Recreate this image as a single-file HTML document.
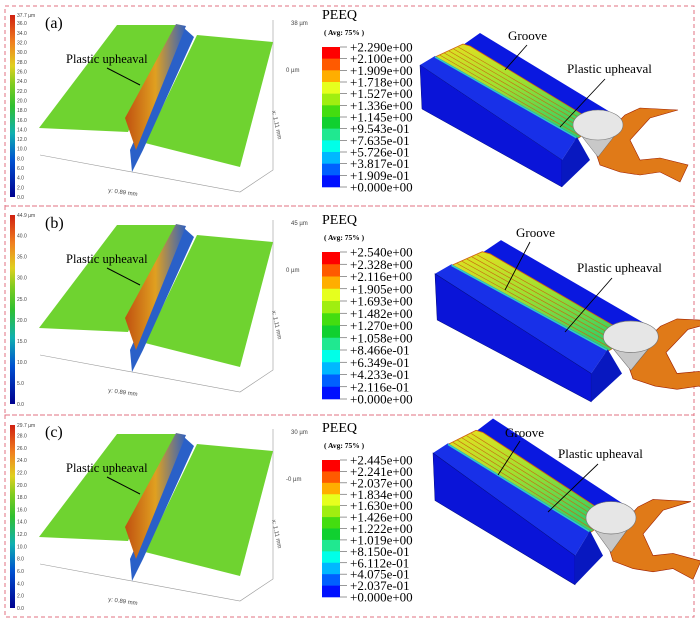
<!DOCTYPE html>
<html><head><meta charset="utf-8"><style>
body{margin:0;background:#fff;width:700px;height:623px;overflow:hidden}
svg{display:block;font-family:"Liberation Serif",serif}
.s{font-family:"Liberation Sans",sans-serif}
</style></head><body>
<svg id="fig" width="700" height="623" viewBox="0 0 700 623" xmlns="http://www.w3.org/2000/svg">
<defs>
<linearGradient id="jet" x1="0" y1="1" x2="0" y2="0">
<stop offset="0" stop-color="#00008f"/><stop offset="0.2" stop-color="#0050d0"/><stop offset="0.35" stop-color="#10b0b0"/><stop offset="0.5" stop-color="#30c030"/><stop offset="0.62" stop-color="#80cc20"/><stop offset="0.72" stop-color="#e0d020"/><stop offset="0.85" stop-color="#f08020"/><stop offset="1" stop-color="#d02010"/>
</linearGradient>
<linearGradient id="ridge" x1="0" y1="0" x2="1" y2="0">
<stop offset="0" stop-color="#c05010"/><stop offset="0.5" stop-color="#e0a020"/><stop offset="1" stop-color="#3060c0"/>
</linearGradient>
<linearGradient id="grv" x1="0" y1="0" x2="0.4" y2="1">
<stop offset="0" stop-color="#e8e020"/><stop offset="0.5" stop-color="#a0e030"/><stop offset="1" stop-color="#40d060"/>
</linearGradient>
</defs>
</svg>
<script>
const panelLetters=['(a)','(b)','(c)'];
const panelTops=[6,206,415];
const panelBottoms=[206,415,617];
const heightMax=['37.7 µm','44.9 µm','29.7 µm'];
const heightTicksA=['36.0','34.0','32.0','30.0','28.0','26.0','24.0','22.0','20.0','18.0','16.0','14.0','12.0','10.0','8.0','6.0','4.0','2.0','0.0'];
const heightTicksB=['40.0','35.0','30.0','25.0','20.0','15.0','10.0','5.0','0.0'];
const heightTicksC=['28.0','26.0','24.0','22.0','20.0','18.0','16.0','14.0','12.0','10.0','8.0','6.0','4.0','2.0','0.0'];
const heightVals=[[36,34,32,30,28,26,24,22,20,18,16,14,12,10,8,6,4,2,0],[40,35,30,25,20,15,10,5,0],[28,26,24,22,20,18,16,14,12,10,8,6,4,2,0]];
const heightMaxVals=[37.7,44.9,29.7];
const zTop=['38 µm','45 µm','30 µm'];
const zZero=['0 µm','0 µm','-0 µm'];
const peeqA=['+2.290e+00','+2.100e+00','+1.909e+00','+1.718e+00','+1.527e+00','+1.336e+00','+1.145e+00','+9.543e-01','+7.635e-01','+5.726e-01','+3.817e-01','+1.909e-01','+0.000e+00'];
const peeqB=['+2.540e+00','+2.328e+00','+2.116e+00','+1.905e+00','+1.693e+00','+1.482e+00','+1.270e+00','+1.058e+00','+8.466e-01','+6.349e-01','+4.233e-01','+2.116e-01','+0.000e+00'];
const peeqC=['+2.445e+00','+2.241e+00','+2.037e+00','+1.834e+00','+1.630e+00','+1.426e+00','+1.222e+00','+1.019e+00','+8.150e-01','+6.112e-01','+4.075e-01','+2.037e-01','+0.000e+00'];
const bandColors=['#ff0000','#ff5a00','#ffae00','#e6ff1e','#a0ee10','#44dd10','#10d030','#20e890','#00ffe8','#00b8ff','#0060ff','#0010ff'];
const heightTickLabels=[heightTicksA,heightTicksB,heightTicksC];
const peeqLabels=[peeqA,peeqB,peeqC];
const barTops=[15,215,425], barBots=[197,404,608];
const peeqTop=[47,252,460], peeqBot=[187,399,597];
const modelTx=[[0,0,1,1],[435-420*1.1,277-65*1.1,1.1,1.05],[433-420*1.0,453-65*1.08,1.0,1.08]];
const groovePos=[[508,40,527,45,505,70],[516,237,530,242,505,290],[505,437,520,441,498,475]];
const upPos=[[567,73,605,79,560,127],[577,272,612,278,565,332],[558,458,598,464,548,512]];
const NS='http://www.w3.org/2000/svg';
const svg=document.getElementById('fig');
function mk(tag,attrs,parent,text){const e=document.createElementNS(NS,tag);for(const k in attrs)e.setAttribute(k,attrs[k]);if(text!==undefined)e.textContent=text;(parent||svg).appendChild(e);return e;}
function pts(a){return a.map(p=>p.join(',')).join(' ');}
for(let i=0;i<3;i++){
 const T=panelTops[i],B=panelBottoms[i];
 const g=mk('g',{});
 
 
 const fr=mk('rect',{x:5,y:T,width:689,height:B-T,fill:'none',stroke:'#e07080','stroke-width':1,'stroke-dasharray':'4,3'},g);
 
 
 const y0=barTops[i],y1=barBots[i];
 const hb=mk('rect',{x:10,y:y0,width:5,height:y1-y0,fill:'url(#jet)'},g);
 
 
 const sc=v=>y1-(v/heightMaxVals[i])*(y1-y0);
 const mt=mk('text',{x:17,y:y0+2,'font-size':5,fill:'#444',class:'s'},g,heightMax[i]);
 
 
 heightVals[i].forEach((v,k)=>{
  const t=mk('text',{x:17,y:sc(v)+2,'font-size':5,fill:'#444',class:'s'},g,heightTickLabels[i][k]);
  
  
 });
 const lt=mk('text',{x:45,y:T+22,'font-size':16,fill:'#000'},g,panelLetters[i]);
 
 
 const o=T-6;
 const P=(x,y)=>[x,y+o];
 const ax=mk('polyline',{points:pts([P(40,155),P(240,192),P(273,170),P(273,20)]),fill:'none',stroke:'#999','stroke-width':0.6},g);
 
 
 const lp=mk('polygon',{points:pts([P(117,25),P(180,25),P(128,132),P(39,128)]),fill:'#6fd330'},g);
 
 
 const rp=mk('polygon',{points:pts([P(197,35),P(273,42),P(240,167),P(145,143)]),fill:'#6fd330'},g);
 
 
 const gb=mk('polygon',{points:pts([P(184,28),P(194,37),P(143,150),P(132,172),P(130,150)]),fill:'#2a60c8'},g);
 
 
 const rg=mk('polygon',{points:pts([P(176,24),P(186,26),P(136,150),P(125,118)]),fill:'url(#ridge)'},g);
 
 
 const pu=mk('text',{x:66,y:T+57,'font-size':12.5},g,'Plastic upheaval');
 
 
 mk('line',{x1:107,y1:T+62,x2:140,y2:T+79,stroke:'#000','stroke-width':1},g);
 const z1=mk('text',{x:291,y:T+19,'font-size':6,class:'s',fill:'#444'},g,zTop[i]);
 
 
 const z0=mk('text',{x:286,y:T+66,'font-size':6,class:'s',fill:'#444'},g,zZero[i]);
 
 
 const xl=mk('text',{x:0,y:0,'font-size':6,class:'s',fill:'#444',transform:`translate(272,${T+105}) rotate(78)`},g,'x: 1.11 mm');
 
 
 const yl=mk('text',{x:0,y:0,'font-size':6,class:'s',fill:'#444',transform:`translate(108,${T+186}) rotate(8)`},g,'y: 0.89 mm');
 
 
 const pt=peeqTop[i],pb=peeqBot[i];
 const ptl=mk('text',{x:322,y:pt-28,'font-size':14},g,'PEEQ');
 
 
 const av=mk('text',{x:324,y:pt-12,'font-size':7.5,'font-weight':'bold'},g,'( Avg: 75% )');
 
 
 const bh=(pb-pt)/bandColors.length;
 bandColors.forEach((c,k)=>{
  const r=mk('rect',{x:322,y:pt+k*bh,width:18,height:bh+0.3,fill:c},g);
  
  
 });
 peeqLabels[i].forEach((s,k)=>{
  const yy=pt+k*bh;
  mk('line',{x1:340,y1:yy,x2:347,y2:yy,stroke:'#555','stroke-width':0.6},g);
  const t=mk('text',{x:350,y:yy+4.5,'font-size':13},g,s);
  
  
 });
 const [tx,ty,sx,sy]=modelTx[i];
 const mg=mk('g',{transform:`translate(${tx},${ty}) scale(${sx},${sy})`},g);
 
 
 const bw=mk('polygon',{points:pts([[463,45],[480,33],[620,118],[600,125]]),fill:'#0a18e0'},mg);
 
 
 const gr=mk('polygon',{points:pts([[435,57],[463,44],[470,46],[598,124],[580,137],[575,140]]),fill:'url(#grv)',stroke:'#d06010','stroke-width':0.8},mg);
 
 
 for(let k=1;k<6;k++){const f=k/6;mk('line',{x1:463-28*f,y1:45+12*f,x2:598-22*f,y2:124+14*f,stroke:'#c86a10','stroke-width':0.6},mg);}
 const ts=mk('polygon',{points:pts([[420,65],[435,56],[577,137],[562,160]]),fill:'#1830e8'},mg);
 
 
 mk('line',{x1:435,y1:57,x2:577,y2:138,stroke:'#30d0c0','stroke-width':1.5},mg);
 const ff=mk('polygon',{points:pts([[420,65],[562,160],[562,187],[422,109]]),fill:'#0a14d8',stroke:'#000a80','stroke-width':0.5},mg);
 
 
 const ef=mk('polygon',{points:pts([[562,160],[577,137],[590,160],[562,187]]),fill:'#0818c0'},mg);
 
 
 const db=mk('polygon',{points:pts([[605,135],[625,115],[640,108],[678,110],[650,118],[630,140],[640,160],[660,158],[688,165],[680,182],[660,172],[640,175],[620,172],[600,165],[595,150]]),fill:'#e07a18',stroke:'#a02000','stroke-width':0.6},mg);
 
 
 const cn=mk('polygon',{points:pts([[573,125],[623,125],[598,157]]),fill:'#c8c8c8',stroke:'#666','stroke-width':0.5},mg);
 
 
 const ce=mk('ellipse',{cx:598,cy:125,rx:25,ry:15,fill:'#e6e6e6',stroke:'#777','stroke-width':0.6},mg);
 
 
 const gp=groovePos[i];
 const gl=mk('text',{x:gp[0],y:gp[1],'font-size':13},g,'Groove');
 
 
 mk('line',{x1:gp[2],y1:gp[3],x2:gp[4],y2:gp[5],stroke:'#000','stroke-width':0.9},g);
 const up=upPos[i];
 const ul=mk('text',{x:up[0],y:up[1],'font-size':13},g,'Plastic upheaval');
 
 
 mk('line',{x1:up[2],y1:up[3],x2:up[4],y2:up[5],stroke:'#000','stroke-width':0.9},g);
}
</script>
</body></html>
